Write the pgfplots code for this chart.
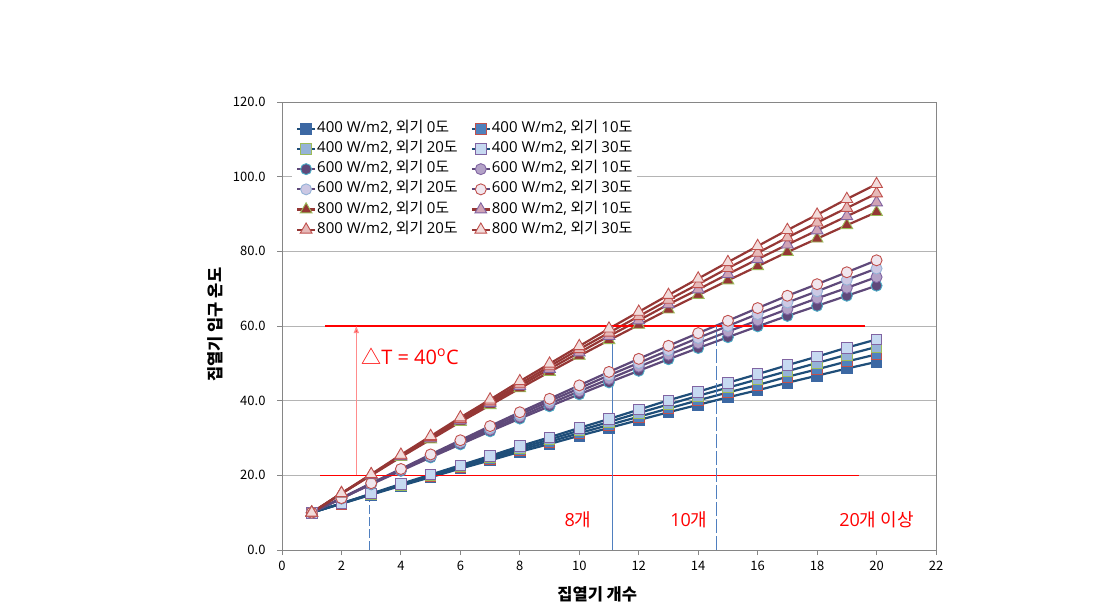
\documentclass[border=0pt]{standalone}
\usepackage{pgfplots}
\usepackage{pgfplotstable}
\pgfplotsset{compat=1.18}
\usepackage{fontspec}
\setmainfont{Noto Sans CJK KR}
\newfontfamily\lf{Open Sans}
\usetikzlibrary{arrows.meta}

\definecolor{lineA}{HTML}{1F4E79}
\definecolor{lineB}{HTML}{5F497A}
\definecolor{lineC}{HTML}{953735}
\definecolor{sqA}{HTML}{3C68A3}
\definecolor{sqB}{HTML}{4F81BD}
\definecolor{sqC}{HTML}{95B3D7}
\definecolor{sqD}{HTML}{C6D9F1}
\definecolor{xred}{HTML}{C0504D}
\definecolor{xgreen}{HTML}{9BBB59}
\definecolor{xpurple}{HTML}{8064A2}
\definecolor{xteal}{HTML}{4BACC6}
\definecolor{ciB}{HTML}{B3A2C7}
\definecolor{ciC}{HTML}{CCC8E4}
\definecolor{ciD}{HTML}{F0E6EE}
\definecolor{trB}{HTML}{D0A3B6}
\definecolor{trC}{HTML}{E6B9B8}
\definecolor{trD}{HTML}{F2DCDB}
\definecolor{gridgray}{HTML}{B4B4B4}
\definecolor{axgray}{HTML}{868686}
\definecolor{annblue}{HTML}{4F7FBF}
\definecolor{annred}{HTML}{FF0000}

\pgfplotstableread{
n  a0   a10  a20  a30  b0   b10  b20  b30  c0   c10  c20  c30
1  10.0 10.0 10.0 10.0 10.0 10.0 10.0 10.0 10.0 10.0 10.0 10.0
2  12.4 12.4 12.5 12.5 13.8 13.8 13.9 13.9 15.1 15.1 15.2 15.2
3  14.8 14.9 15.0 15.1 17.6 17.7 17.8 17.9 20.0 20.1 20.2 20.3
4  17.2 17.4 17.5 17.7 21.2 21.4 21.6 21.7 24.9 25.1 25.3 25.5
5  19.5 19.7 20.0 20.2 24.8 25.1 25.3 25.6 29.6 29.9 30.2 30.5
6  21.8 22.1 22.4 22.7 28.3 28.7 29.0 29.4 34.3 34.7 35.1 35.5
7  24.0 24.4 24.8 25.2 31.8 32.2 32.7 33.2 38.8 39.3 39.8 40.3
8  26.3 26.8 27.3 27.8 35.2 35.7 36.3 36.9 43.3 43.9 44.5 45.2
9  28.4 29.0 29.6 30.2 38.5 39.2 39.9 40.5 47.7 48.5 49.2 49.9
10 30.6 31.3 32.0 32.7 41.7 42.5 43.3 44.1 52.0 52.9 53.8 54.6
11 32.7 33.5 34.3 35.1 44.9 45.8 46.8 47.7 56.2 57.3 58.2 59.3
12 34.8 35.7 36.7 37.6 48.0 49.1 50.1 51.2 60.3 61.5 62.6 63.8
13 36.9 37.9 39.0 40.1 51.1 52.3 53.5 54.7 64.4 65.8 67.0 68.3
14 38.9 40.1 41.3 42.4 54.1 55.4 56.8 58.1 68.3 69.8 71.2 72.7
15 40.9 42.2 43.5 44.8 57.0 58.5 60.0 61.4 72.2 73.9 75.5 77.1
16 42.8 44.2 45.7 47.1 59.9 61.5 63.2 64.8 76.0 77.9 79.6 81.4
17 44.8 46.4 47.9 49.5 62.7 64.5 66.3 68.1 79.8 81.8 83.7 85.7
18 46.7 48.4 50.1 51.8 65.4 67.4 69.3 71.2 83.4 85.6 87.7 89.8
19 48.6 50.5 52.3 54.2 68.1 70.2 72.4 74.4 87.0 89.4 91.6 94.0
20 50.4 52.4 54.4 56.4 70.8 73.1 75.4 77.6 90.5 93.1 95.5 98.0
}\datatable

\newcommand{\ent}[2]{{\lf #1 W/m2,} 외기 {\lf #2}도}

\begin{document}
\begin{tikzpicture}
\useasboundingbox (0,0) rectangle (1113pt,614pt);
\begin{axis}[
  at={(282pt,64pt)}, anchor=south west,
  scale only axis, width=654pt, height=448pt,
  xmin=0, xmax=22, ymin=0, ymax=120,
  xtick={0,2,...,22}, ytick={0,20,...,120},
  ymajorgrids, grid style={gridgray, line width=0.8pt},
  axis line style={axgray, line width=0.9pt},
  tick style={axgray, line width=0.9pt},
  tick align=outside, major tick length=5pt,
  xtick pos=bottom, ytick pos=left,
  /pgf/number format/assume math mode=true,
  ticklabel style={font=\fontsize{13}{15}\selectfont},
  xticklabel style={yshift=-3pt},
  yticklabel style={xshift=-8pt, /pgf/number format/.cd, fixed, fixed zerofill, precision=1},
  xlabel={집열기 개수}, ylabel={집열기 입구 온도},
  xlabel style={at={(axis description cs:0.482,-0.1)}, anchor=center, font=\fontsize{16.5}{18}\selectfont\bfseries},
  ylabel style={at={(axis description cs:-0.1025,0.503)}, anchor=center, font=\fontsize{16.5}{18}\selectfont\bfseries},
  legend columns=2, legend cell align=left,
  legend style={at={(0.015,0.972)}, anchor=north west, draw=none, fill=white,
    font=\fontsize{15}{16}\selectfont, inner xsep=4pt, inner ysep=6pt,
    nodes={inner sep=1pt, text height=10.5pt, text depth=3.5pt},
    row sep=4.2pt,
    /tikz/every even column/.append style={column sep=12pt}},
  legend image code/.code={\draw[mark repeat=2,mark phase=2] plot coordinates {(0pt,0pt) (9pt,0pt) (18pt,0pt)};},
  every axis plot/.append style={line width=2.2pt},
]
\addplot[lineA, mark=square*, mark size=5.3pt, mark options={solid, fill=sqA, draw=sqA, line width=0.9pt}] table[x=n,y=a0]{\datatable};
\addlegendentry{\ent{400}{0}}
\addplot[lineA, mark=square*, mark size=5.3pt, mark options={solid, fill=sqB, draw=xred, line width=0.9pt}] table[x=n,y=a10]{\datatable};
\addlegendentry{\ent{400}{10}}
\addplot[lineA, mark=square*, mark size=5.3pt, mark options={solid, fill=sqC, draw=xgreen, line width=0.9pt}] table[x=n,y=a20]{\datatable};
\addlegendentry{\ent{400}{20}}
\addplot[lineA, mark=square*, mark size=5.3pt, mark options={solid, fill=sqD, draw=xpurple, line width=0.9pt}] table[x=n,y=a30]{\datatable};
\addlegendentry{\ent{400}{30}}
\addplot[lineB, mark=*, mark size=5.5pt, mark options={solid, fill=lineB, draw=xteal, line width=0.9pt}] table[x=n,y=b0]{\datatable};
\addlegendentry{\ent{600}{0}}
\addplot[lineB, mark=*, mark size=5.5pt, mark options={solid, fill=ciB, draw=xpurple, line width=0.9pt}] table[x=n,y=b10]{\datatable};
\addlegendentry{\ent{600}{10}}
\addplot[lineB, mark=*, mark size=5.5pt, mark options={solid, fill=ciC, draw=sqC, line width=0.9pt}] table[x=n,y=b20]{\datatable};
\addlegendentry{\ent{600}{20}}
\addplot[lineB, mark=*, mark size=5.5pt, mark options={solid, fill=ciD, draw=xred, line width=0.9pt}] table[x=n,y=b30]{\datatable};
\addlegendentry{\ent{600}{30}}
\addplot[lineC, mark=triangle*, mark size=6.8pt, mark options={solid, fill=lineC, draw=xgreen, line width=0.9pt}] table[x=n,y=c0]{\datatable};
\addlegendentry{\ent{800}{0}}
\addplot[lineC, mark=triangle*, mark size=6.8pt, mark options={solid, fill=trB, draw=xpurple, line width=0.9pt}] table[x=n,y=c10]{\datatable};
\addlegendentry{\ent{800}{10}}
\addplot[lineC, mark=triangle*, mark size=6.8pt, mark options={solid, fill=trC, draw=xred, line width=0.9pt}] table[x=n,y=c20]{\datatable};
\addlegendentry{\ent{800}{20}}
\addplot[lineC, mark=triangle*, mark size=6.8pt, mark options={solid, fill=trD, draw=xred, line width=0.9pt}] table[x=n,y=c30]{\datatable};
\addlegendentry{\ent{800}{30}}

% annotations
\draw[annred, line width=1.3pt] (axis cs:1.45,60) -- (axis cs:19.6,60);
\draw[annred, line width=1.3pt] (axis cs:1.28,20) -- (axis cs:19.4,20);
\draw[annred!45, line width=1.2pt, -{Triangle[length=7pt,width=5pt,fill=annred!80]}] (axis cs:2.5,20) -- (axis cs:2.5,60);
\draw[annblue, line width=1pt, dash pattern=on 9pt off 3pt, -{Straight Barb[length=3pt,width=5pt]}] (axis cs:2.93,0) -- (axis cs:2.93,20.6);
\draw[annblue, line width=1pt] (axis cs:11.13,0) -- (axis cs:11.13,60);
\draw[annblue, line width=1pt, dash pattern=on 14pt off 3pt] (axis cs:14.63,0) -- (axis cs:14.63,60);
\node[annred, anchor=west, font=\fontsize{20}{22}\selectfont] at (axis cs:2.55,52) {△{\lf T = 40\textsuperscript{o}C}};
\node[annred, font=\fontsize{18}{20}\selectfont] at (axis cs:9.96,8) {{\lf 8}개};
\node[annred, font=\fontsize{18}{20}\selectfont] at (axis cs:13.69,8) {{\lf 10}개};
\node[annred, font=\fontsize{18}{20}\selectfont] at (axis cs:20.0,8) {{\lf 20}개 이상};
\end{axis}
\end{tikzpicture}
\end{document}
